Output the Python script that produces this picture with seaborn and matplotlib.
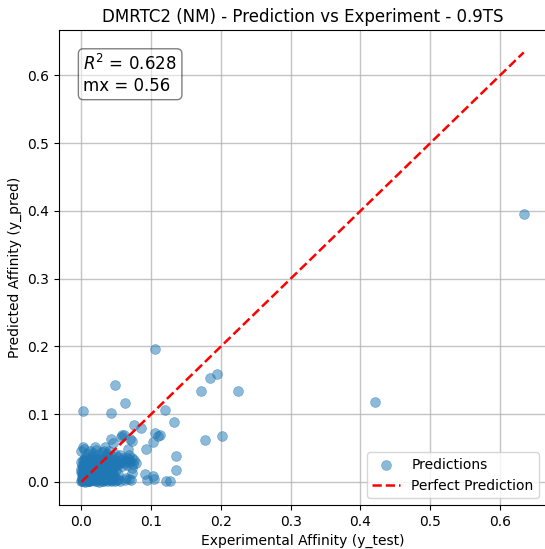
import matplotlib
matplotlib.use("Agg")
import matplotlib.pyplot as plt
import seaborn as sns
import pandas as pd

# Dense core of low-affinity samples (experimental, predicted)
core_test = [
    0.000, 0.002, 0.005, 0.007, 0.010, 0.013, 0.016, 0.019, 0.022, 0.025, 0.028, 0.031, 0.034, 0.037, 0.040, 0.043, 0.046,
    0.001, 0.004, 0.006, 0.009, 0.011, 0.014, 0.017, 0.020, 0.023, 0.026, 0.029, 0.032, 0.035, 0.038, 0.041, 0.044,
    0.000, 0.003, 0.006, 0.008, 0.012, 0.015, 0.018, 0.021, 0.024, 0.027, 0.030, 0.033, 0.036, 0.039, 0.042, 0.045,
    0.002, 0.005, 0.007, 0.010, 0.013, 0.016, 0.019, 0.022, 0.025, 0.028, 0.031, 0.034, 0.037, 0.040, 0.043, 0.047, 0.050,
    0.000, 0.004, 0.008, 0.011, 0.014, 0.017, 0.020, 0.023, 0.026, 0.029, 0.032, 0.035, 0.038, 0.041, 0.044, 0.048, 0.052,
    0.005, 0.015, 0.027, 0.036,
    0.001, 0.003, 0.006, 0.009, 0.012, 0.004, 0.008, 0.015, 0.002, 0.011,
    0.001, 0.003, 0.006, 0.008, 0.011, 0.014, 0.017, 0.020, 0.023, 0.026, 0.029, 0.032, 0.035, 0.038, 0.041, 0.044,
    0.002, 0.004, 0.007, 0.009, 0.012, 0.015, 0.018, 0.021, 0.024, 0.027, 0.030, 0.033, 0.036, 0.039, 0.042,
    0.000, 0.003, 0.005, 0.008, 0.010, 0.013, 0.016, 0.019, 0.022, 0.025, 0.028, 0.031, 0.034, 0.037, 0.040, 0.043,
    0.001, 0.004, 0.006, 0.009, 0.012, 0.015, 0.018, 0.021, 0.024, 0.027, 0.030, 0.033, 0.036, 0.039, 0.046,
    0.002, 0.005, 0.007, 0.010, 0.013, 0.016, 0.019, 0.022, 0.025, 0.028, 0.031, 0.034, 0.037, 0.042,
    0.003, 0.006, 0.009, 0.012, 0.001, 0.005, 0.014, 0.018, 0.007, 0.010,
]
core_pred = [
    0.001, 0.003, 0.000, 0.004, 0.002, 0.001, 0.003, 0.005, 0.002, 0.000, 0.004, 0.001, 0.003, 0.002, 0.005, 0.001, 0.003,
    0.008, 0.011, 0.006, 0.009, 0.012, 0.007, 0.010, 0.008, 0.011, 0.006, 0.009, 0.012, 0.007, 0.010, 0.008, 0.011,
    0.015, 0.013, 0.018, 0.016, 0.014, 0.019, 0.013, 0.017, 0.015, 0.018, 0.014, 0.016, 0.019, 0.013, 0.017, 0.015,
    0.022, 0.020, 0.025, 0.023, 0.021, 0.026, 0.020, 0.024, 0.022, 0.025, 0.021, 0.023, 0.026, 0.020, 0.024, 0.022, 0.025,
    0.029, 0.032, 0.027, 0.031, 0.034, 0.028, 0.030, 0.033, 0.027, 0.031, 0.029, 0.034, 0.028, 0.032, 0.030, 0.033, 0.028,
    0.036, 0.038, 0.035, 0.039,
    0.002, 0.005, 0.003, 0.007, 0.004, 0.010, 0.013, 0.006, 0.012, 0.001,
    0.004, 0.007, 0.002, 0.005, 0.008, 0.003, 0.006, 0.002, 0.007, 0.004, 0.002, 0.006, 0.004, 0.007, 0.003, 0.006,
    0.012, 0.015, 0.010, 0.013, 0.016, 0.011, 0.014, 0.012, 0.016, 0.010, 0.013, 0.015, 0.011, 0.014, 0.012,
    0.019, 0.021, 0.017, 0.020, 0.018, 0.022, 0.019, 0.021, 0.018, 0.020, 0.022, 0.019, 0.021, 0.018, 0.020, 0.019,
    0.025, 0.027, 0.024, 0.026, 0.028, 0.025, 0.027, 0.024, 0.026, 0.028, 0.025, 0.027, 0.024, 0.026, 0.027,
    0.032, 0.030, 0.033, 0.031, 0.035, 0.032, 0.030, 0.034, 0.031, 0.033, 0.030, 0.032, 0.031, 0.034,
    0.001, 0.009, 0.002, 0.010, 0.014, 0.016, 0.008, 0.009, 0.014, 0.017,
]

# Samples around the edge of the core
edge_test = [
    0.000, 0.004, 0.008, 0.012, 0.016, 0.021, 0.025, 0.029, 0.033, 0.037, 0.040, 0.044, 0.048, 0.052, 0.056,
    0.060, 0.064, 0.068, 0.062, 0.066, 0.058, 0.056, 0.070, 0.076, 0.078, 0.064, 0.068, 0.062, 0.045, 0.048,
    0.054, 0.058, 0.050, 0.047, 0.065, 0.072,
]
edge_pred = [
    0.045, 0.048, 0.041, 0.046, 0.043, 0.047, 0.040, 0.044, 0.046, 0.041, 0.045, 0.039, 0.042, 0.037, 0.040,
    0.035, 0.031, 0.034, 0.028, 0.025, 0.023, 0.030, 0.030, 0.033, 0.028, 0.006, 0.005, 0.003, 0.007, 0.002,
    0.026, 0.032, 0.030, 0.010, 0.036, 0.036,
]

# Scattered samples away from the core
spread_test = [
    0.634, 0.421, 0.105, 0.048, 0.172, 0.185, 0.195, 0.225, 0.003, 0.042,
    0.063, 0.120, 0.133, 0.075, 0.085, 0.105, 0.110, 0.113, 0.102, 0.092,
    0.177, 0.202, 0.135, 0.135, 0.091, 0.103, 0.104, 0.094, 0.121, 0.127,
    0.071, 0.051, 0.042, 0.058, 0.061, 0.057, 0.070, 0.046, 0.072, 0.067,
    0.069, 0.074, 0.072, 0.073, 0.050, 0.053, 0.002, 0.019, 0.034, 0.052, 0.055,
]
spread_pred = [
    0.396, 0.118, 0.197, 0.143, 0.134, 0.153, 0.159, 0.134, 0.105, 0.102,
    0.117, 0.106, 0.089, 0.084, 0.080, 0.072, 0.068, 0.069, 0.059, 0.049,
    0.062, 0.068, 0.038, 0.017, 0.0125, 0.009, 0.004, 0.003, 0.002, 0.002,
    0.003, 0.003, 0.064, 0.069, 0.070, 0.066, 0.063, 0.058, 0.060, 0.048,
    0.040, 0.027, 0.020, 0.0135, 0.017, 0.0125, 0.052, 0.052, 0.052, 0.005, 0.001,
]

r2_value = 0.628
mx_value = 0.56
title = "DMRTC2 (NM) - Prediction vs Experiment - 0.9TS"

df = pd.DataFrame({
    "y_test": core_test + edge_test + spread_test,
    "y_pred": core_pred + edge_pred + spread_pred,
})

fig = plt.figure(figsize=(5.45, 5.49), dpi=100)
ax = fig.add_axes([0.1083, 0.0801, 0.8936, 0.8652])

sns.scatterplot(data=df, x="y_test", y="y_pred", ax=ax, alpha=0.5,
                s=50, color="#1f77b4", edgecolor="face", linewidth=0.5,
                label="Predictions")

lo = min(df["y_test"].min(), df["y_pred"].min())
hi = max(df["y_test"].max(), df["y_pred"].max())
ax.plot([lo, hi], [lo, hi], "r--", lw=1.8, label="Perfect Prediction")

ax.set_xlim(-0.032, 0.666)
ax.set_ylim(-0.034, 0.667)
ax.grid(True, color="#b0b0b0", lw=1.0, alpha=0.75)
ax.set_axisbelow(True)

ax.set_title(title, fontsize=12)
ax.set_xlabel("Experimental Affinity (y_test)", fontsize=10)
ax.set_ylabel("Predicted Affinity (y_pred)", fontsize=10)
ax.tick_params(labelsize=10)

ax.text(0.05, 0.95, f"$R^2$ = {r2_value:.3f}\nmx = {mx_value:.2f}",
        transform=ax.transAxes, fontsize=12, va="top",
        bbox=dict(boxstyle="round", facecolor="white", alpha=0.5))

ax.legend(loc="lower right", fontsize=10)

fig.savefig("out.png", dpi=100)
